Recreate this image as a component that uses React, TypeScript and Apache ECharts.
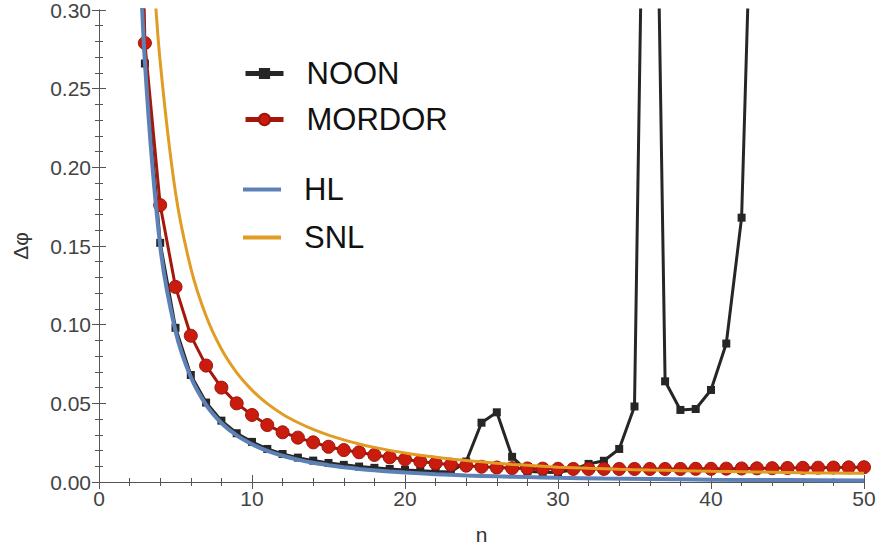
import React, { useEffect, useRef } from "react";
import * as echarts from "echarts";

// NOON (black squares)
const noonN = [2, 3, 4, 5, 6, 7, 8, 9, 10, 11, 12, 13, 14, 15, 16, 17, 18, 19, 20, 21, 22, 23, 24, 25, 26, 27, 28, 29, 30, 31, 32, 33, 34, 35, 36, 37, 38, 39, 40, 41, 42, 43];
const noonV = [0.62, 0.266, 0.152, 0.098, 0.068, 0.0505, 0.039, 0.031, 0.0255, 0.021, 0.0178, 0.0155, 0.0136, 0.0121, 0.0109, 0.0098, 0.009, 0.0083, 0.0077, 0.0071, 0.0066, 0.0063, 0.013, 0.0377, 0.0443, 0.016, 0.0068, 0.0062, 0.006, 0.008, 0.0115, 0.0135, 0.021, 0.048, 0.68, 0.064, 0.0458, 0.0464, 0.0585, 0.088, 0.168, 0.5];

// MORDOR (red circles)
const mordorN = [2, 3, 4, 5, 6, 7, 8, 9, 10, 11, 12, 13, 14, 15, 16, 17, 18, 19, 20, 21, 22, 23, 24, 25, 26, 27, 28, 29, 30, 31, 32, 33, 34, 35, 36, 37, 38, 39, 40, 41, 42, 43, 44, 45, 46, 47, 48, 49, 50];
const mordorV = [0.75, 0.279, 0.176, 0.124, 0.093, 0.074, 0.06, 0.05, 0.0426, 0.0362, 0.0316, 0.0282, 0.0252, 0.0224, 0.0203, 0.0189, 0.0172, 0.0157, 0.0144, 0.013, 0.0119, 0.011, 0.0104, 0.0097, 0.0092, 0.0088, 0.0086, 0.0085, 0.0084, 0.0083, 0.0083, 0.0083, 0.0083, 0.0083, 0.0083, 0.0083, 0.0083, 0.0084, 0.0084, 0.0085, 0.0086, 0.0087, 0.0088, 0.0089, 0.009, 0.0091, 0.0092, 0.0093, 0.0094];

// HL (blue curve)
const hlN = [2.5, 3, 4, 5, 6, 7, 8, 9, 10, 11, 12, 13, 14, 15, 16, 17, 18, 19, 20, 22, 24, 26, 28, 30, 33, 36, 40, 45, 50];
const hlV = [0.384, 0.267, 0.15, 0.096, 0.0667, 0.049, 0.0375, 0.0296, 0.024, 0.0198, 0.0167, 0.0142, 0.0122, 0.0107, 0.0094, 0.0083, 0.0074, 0.0066, 0.006, 0.005, 0.0042, 0.0036, 0.0031, 0.0027, 0.0022, 0.0019, 0.0015, 0.0012, 0.001];

// SNL (orange curve)
const snlN = [3.5, 4, 5, 6, 7, 8, 9, 10, 11, 12, 13, 14, 15, 16, 17, 18, 19, 20, 21, 22, 23, 24, 25, 26, 27, 28, 29, 30, 32, 34, 36, 38, 40, 42, 44, 46, 48, 50];
const snlV = [0.333, 0.267, 0.184, 0.136, 0.1055, 0.0845, 0.0695, 0.0584, 0.0498, 0.0431, 0.0378, 0.0334, 0.0298, 0.0268, 0.0242, 0.022, 0.0201, 0.0185, 0.017, 0.0158, 0.0146, 0.0137, 0.0128, 0.0119, 0.0112, 0.0106, 0.01, 0.0094, 0.0087, 0.0081, 0.0076, 0.0072, 0.0068, 0.0065, 0.0062, 0.0059, 0.0057, 0.0055];

// Axis ticks
const xTicks = [0, 10, 20, 30, 40, 50];
const yTicks = [0, 0.05, 0.1, 0.15, 0.2, 0.25, 0.3];

const FONT = "'Liberation Sans', Arial, sans-serif";
const FRAME = "#555555";

const pairs = (xs: number[], ys: number[]) => xs.map((x, i) => [x, ys[i]]);

export default function App() {
  const ref = useRef<HTMLDivElement>(null);
  useEffect(() => {
    if (!ref.current) return;
    const chart = echarts.init(ref.current, undefined, { renderer: "svg" });
    const xCommon = {
      type: "value" as const,
      min: xTicks[0],
      max: xTicks[xTicks.length - 1],
      interval: 10,
      splitLine: { show: false },
      axisLine: { show: true, lineStyle: { color: FRAME, width: 1 } },
      axisTick: { show: true, inside: true, length: 7, lineStyle: { color: FRAME, width: 1 } },
      minorTick: { show: true, splitNumber: 5, length: 4, lineStyle: { color: FRAME, width: 1 } },
    };
    const yCommon = {
      type: "value" as const,
      min: yTicks[0],
      max: yTicks[yTicks.length - 1],
      interval: 0.05,
      splitLine: { show: false },
      axisLine: { show: true, lineStyle: { color: FRAME, width: 1 } },
      axisTick: { show: true, inside: true, length: 7, lineStyle: { color: FRAME, width: 1 } },
      minorTick: { show: true, splitNumber: 5, length: 4, lineStyle: { color: FRAME, width: 1 } },
    };
    const legendText = { fontSize: 31, lineHeight: 30, color: "#111111", fontFamily: FONT, padding: [0, 0, 0, 18] };
    chart.setOption({
      animation: false,
      backgroundColor: "#ffffff",
      textStyle: { fontFamily: FONT },
      grid: { left: 99, right: 17, top: 10, bottom: 68, containLabel: false, outerBoundsMode: "none" },
      legend: [
        {
          data: ["NOON", "MORDOR"],
          left: 238,
          top: 53,
          orient: "vertical",
          itemWidth: 38,
          itemHeight: 14,
          itemGap: 15,
          lineStyle: { width: 5 },
          textStyle: legendText,
        },
        {
          data: [
            { name: "HL", icon: "rect" },
            { name: "SNL", icon: "rect" },
          ],
          left: 238,
          top: 169,
          orient: "vertical",
          itemWidth: 38,
          itemHeight: 4,
          itemGap: 17,
          textStyle: legendText,
        },
      ],
      xAxis: [
        {
          ...xCommon,
          position: "bottom",
          name: "n",
          nameLocation: "middle",
          nameGap: 42,
          nameTextStyle: { fontSize: 21, color: "#333333", fontFamily: FONT },
          axisLabel: { show: true, margin: 6, fontSize: 21, color: "#444444", fontFamily: FONT },
        },
        { ...xCommon, position: "top", axisLabel: { show: false } },
      ],
      yAxis: [
        {
          ...yCommon,
          position: "left",
          name: "Δφ",
          nameLocation: "middle",
          nameRotate: 90,
          nameGap: 68,
          nameTextStyle: { fontSize: 21, color: "#333333", fontFamily: FONT },
          axisLabel: {
            show: true,
            margin: 8,
            fontSize: 21,
            color: "#444444",
            fontFamily: FONT,
            formatter: (v: number) => v.toFixed(2),
          },
        },
        { ...yCommon, position: "right", axisLabel: { show: false } },
      ],
      series: [
        {
          name: "NOON",
          type: "line",
          xAxisIndex: 0,
          yAxisIndex: 0,
          data: pairs(noonN, noonV),
          symbol: "rect",
          symbolSize: 8,
          clip: true,
          lineStyle: { color: "#262626", width: 3 },
          itemStyle: { color: "#262626" },
          z: 2,
        },
        {
          name: "MORDOR",
          type: "line",
          xAxisIndex: 0,
          yAxisIndex: 0,
          data: pairs(mordorN, mordorV),
          symbol: "circle",
          symbolSize: 13,
          clip: true,
          lineStyle: { color: "#a3170c", width: 3 },
          itemStyle: { color: "#c91b0e", borderColor: "#9d150a", borderWidth: 1 },
          z: 3,
        },
        {
          name: "HL",
          type: "line",
          xAxisIndex: 0,
          yAxisIndex: 0,
          data: pairs(hlN, hlV),
          showSymbol: false,
          symbol: "none",
          smooth: 0.3,
          clip: true,
          lineStyle: { color: "#5e81b5", width: 4 },
          itemStyle: { color: "#5e81b5" },
          z: 4,
        },
        {
          name: "SNL",
          type: "line",
          xAxisIndex: 0,
          yAxisIndex: 0,
          data: pairs(snlN, snlV),
          showSymbol: false,
          symbol: "none",
          smooth: 0.3,
          clip: true,
          lineStyle: { color: "#e19c24", width: 3 },
          itemStyle: { color: "#e19c24" },
          z: 5,
        },
      ],
    });
    return () => chart.dispose();
  }, []);
  return (
    <div
      ref={ref}
      style={{ position: "absolute", left: 0, top: 0, width: 881, height: 550, background: "#fff" }}
    />
  );
}
